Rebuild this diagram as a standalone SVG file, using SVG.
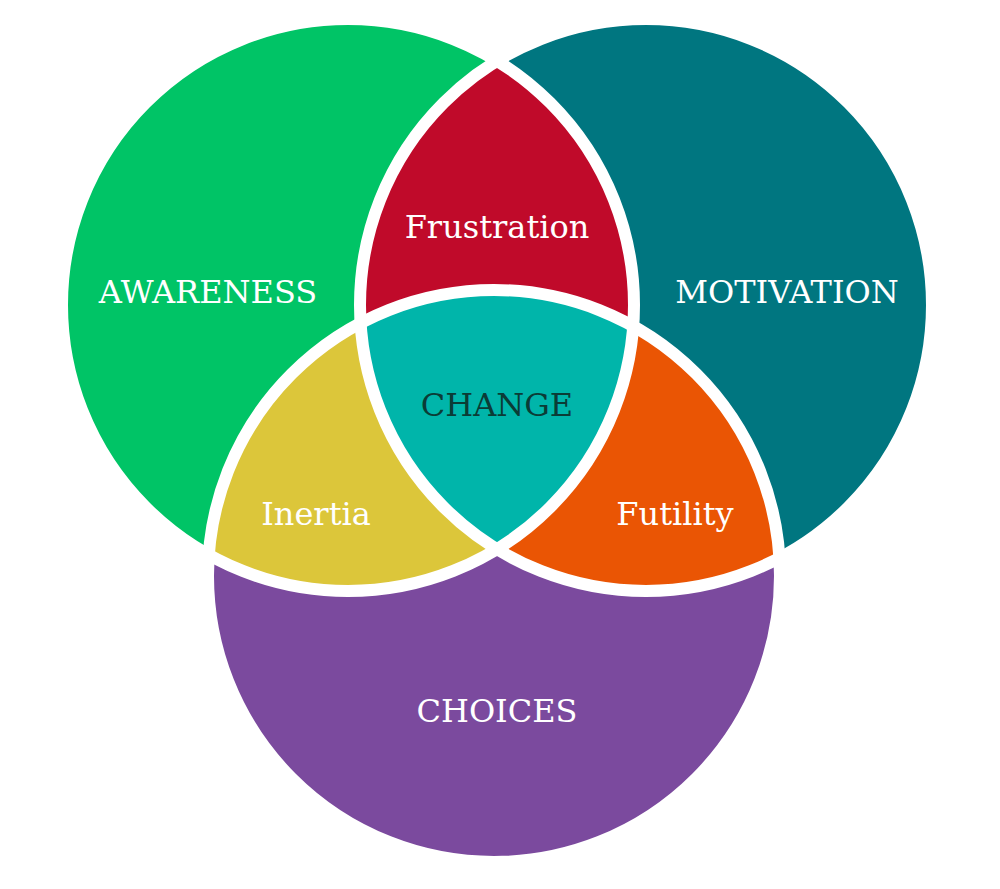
<svg xmlns="http://www.w3.org/2000/svg" width="1000" height="889" viewBox="0 0 1000 889">
<style>
.t{font-family:"DejaVu Serif","Liberation Serif",serif;font-size:32px;fill:#fff;text-anchor:middle}
.o{fill:none;stroke:#fff;stroke-width:12}
</style>
<defs>
<clipPath id="cA"><circle cx="348" cy="305" r="286"/></clipPath>
<clipPath id="cB"><circle cx="646" cy="305" r="286"/></clipPath>
<clipPath id="cC"><circle cx="494" cy="576" r="286"/></clipPath>
</defs>
<rect width="1000" height="889" fill="#fff"/>
<g id="awareness"><circle cx="348" cy="305" r="286" fill="#00C466"/></g>
<g id="motivation"><circle cx="646" cy="305" r="286" fill="#007680"/></g>
<g id="choices"><circle cx="494" cy="576" r="286" fill="#7B4A9E"/></g>
<g id="frustration" clip-path="url(#cA)"><rect width="1000" height="889" fill="#C00A2A" clip-path="url(#cB)"/></g>
<g id="inertia" clip-path="url(#cA)"><rect width="1000" height="889" fill="#DCC63A" clip-path="url(#cC)"/></g>
<g id="futility" clip-path="url(#cB)"><rect width="1000" height="889" fill="#EA5504" clip-path="url(#cC)"/></g>
<g id="change" clip-path="url(#cA)"><g clip-path="url(#cB)"><rect width="1000" height="889" fill="#00B5AA" clip-path="url(#cC)"/></g></g>
<g id="outlines">
<circle class="o" cx="348" cy="305" r="286"/>
<circle class="o" cx="646" cy="305" r="286"/>
<circle class="o" cx="494" cy="576" r="286"/>
</g>
<text class="t" x="208" y="303">AWARENESS</text>
<text class="t" x="787" y="303">MOTIVATION</text>
<text class="t" x="497" y="238">Frustration</text>
<text class="t" x="497" y="416" style="fill:#0B3C36">CHANGE</text>
<text class="t" x="316" y="525">Inertia</text>
<text class="t" x="675" y="525">Futility</text>
<text class="t" x="497" y="722">CHOICES</text>
</svg>
